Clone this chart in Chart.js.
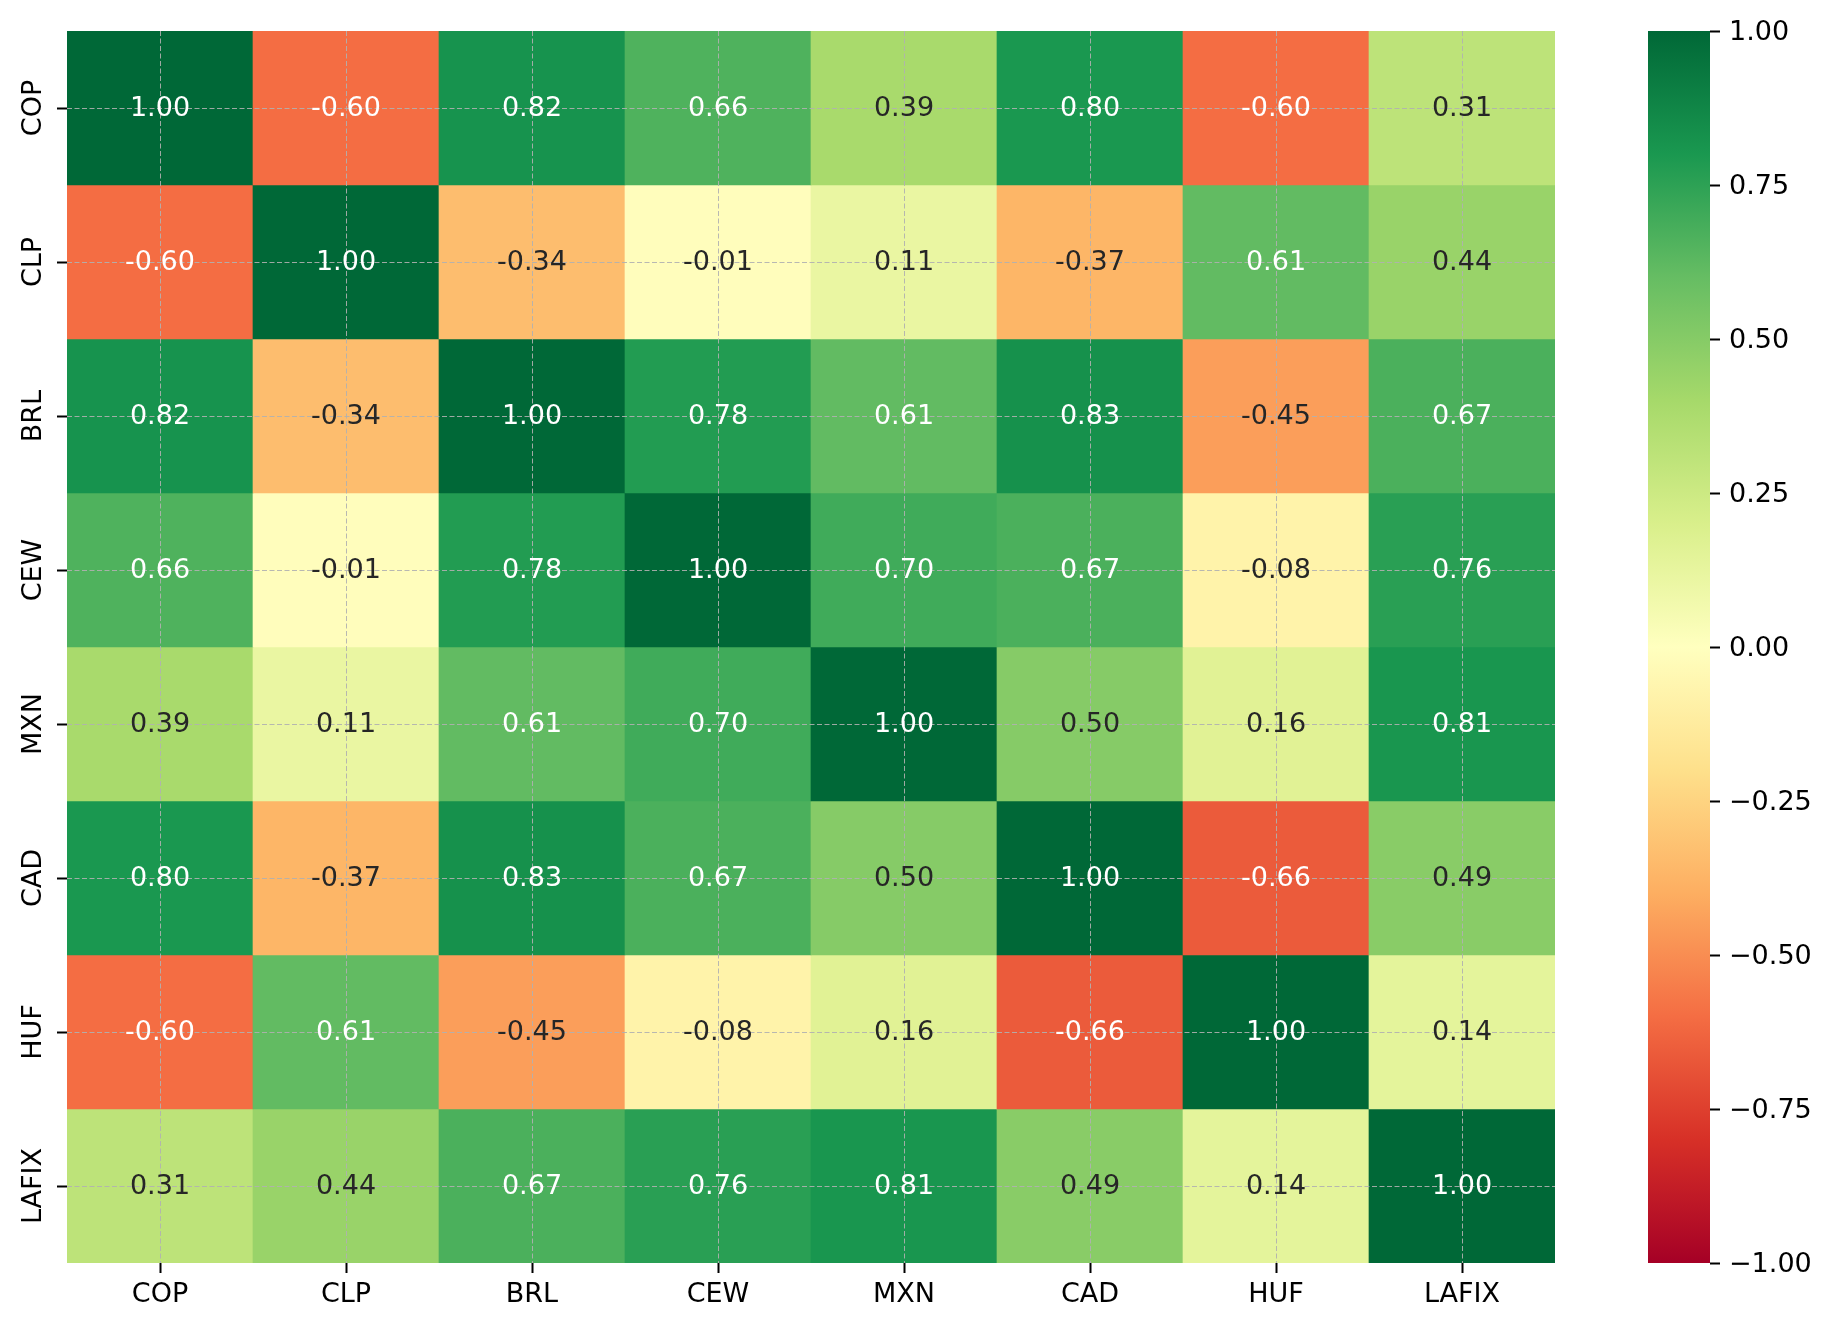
<!DOCTYPE html>
<html>
<head>
<meta charset="utf-8">
<script src="https://cdn.jsdelivr.net/npm/chart.js@4.4.1/dist/chart.umd.min.js"></script>
<style>
  html, body { margin: 0; padding: 0; background: #fff; overflow: hidden; }
  #wrap { position: relative; width: 1834px; height: 1330px; }
  #heat { position: absolute; left: 0; top: 0; }
  #cbar { position: absolute; left: 1600px; top: 0; }
</style>
</head>
<body>
<div id="wrap">
  <canvas id="heat" width="1600" height="1330"></canvas>
  <canvas id="cbar" width="234" height="1330"></canvas>
</div>
<script>
var labels = ['COP', 'CLP', 'BRL', 'CEW', 'MXN', 'CAD', 'HUF', 'LAFIX'];

// correlation rows, same order as labels
var copRow   = [1.00, -0.60, 0.82, 0.66, 0.39, 0.80, -0.60, 0.31];
var clpRow   = [-0.60, 1.00, -0.34, -0.01, 0.11, -0.37, 0.61, 0.44];
var brlRow   = [0.82, -0.34, 1.00, 0.78, 0.61, 0.83, -0.45, 0.67];
var cewRow   = [0.66, -0.01, 0.78, 1.00, 0.70, 0.67, -0.08, 0.76];
var mxnRow   = [0.39, 0.11, 0.61, 0.70, 1.00, 0.50, 0.16, 0.81];
var cadRow   = [0.80, -0.37, 0.83, 0.67, 0.50, 1.00, -0.66, 0.49];
var hufRow   = [-0.60, 0.61, -0.45, -0.08, 0.16, -0.66, 1.00, 0.14];
var lafixRow = [0.31, 0.44, 0.67, 0.76, 0.81, 0.49, 0.14, 1.00];
var corr = [copRow, clpRow, brlRow, cewRow, mxnRow, cadRow, hufRow, lafixRow];

var cbarTicks = [-1, -0.75, -0.5, -0.25, 0, 0.25, 0.5, 0.75, 1];

// RdYlGn stops (colorbrewer, 11 classes)
var rdylgn = [
  [165, 0, 38], [215, 48, 39], [244, 109, 67], [253, 174, 97], [254, 224, 139],
  [255, 255, 191], [217, 239, 139], [166, 217, 106], [102, 189, 99], [26, 152, 80], [0, 104, 55]
];

var FONT = 'DejaVu Sans';

function cmap(v) {
  var t = (v + 1) / 2;
  t = Math.max(0, Math.min(1, t));
  var pos = t * (rdylgn.length - 1);
  var i = Math.min(Math.floor(pos), rdylgn.length - 2);
  var f = pos - i;
  var a = rdylgn[i], b = rdylgn[i + 1];
  return [0, 1, 2].map(k => Math.round(a[k] + (b[k] - a[k]) * f));
}

function rgbStr(c) {
  return 'rgb(' + c[0] + ',' + c[1] + ',' + c[2] + ')';
}

function luminance(c) {
  var lin = c.map(function(x) {
    x = x / 255;
    return x <= 0.03928 ? x / 12.92 : Math.pow((x + 0.055) / 1.055, 2.4);
  });
  return 0.2126 * lin[0] + 0.7152 * lin[1] + 0.0722 * lin[2];
}

// one dataset per row, each bar spans [row, row+1] on the reversed y axis
var datasets = corr.map(function(row, i) {
  return {
    label: labels[i],
    data: row.map(() => [i, i + 1]),
    backgroundColor: row.map(v => rgbStr(cmap(v))),
    borderWidth: 0,
    barPercentage: 1,
    categoryPercentage: 1,
    grouped: false
  };
});

var annotatePlugin = {
  id: 'annotate',
  afterDraw: function(chart) {
    var ctx = chart.ctx;
    var xs = chart.scales.x, ys = chart.scales.y;
    ctx.save();
    ctx.font = '27px "' + FONT + '"';
    ctx.textAlign = 'center';
    ctx.textBaseline = 'middle';
    corr.forEach(function(row, i) {
      row.forEach(function(v, j) {
        var px = xs.getPixelForValue(j);
        var py = ys.getPixelForValue(i + 0.5);
        ctx.fillStyle = luminance(cmap(v)) > 0.408 ? '#262626' : '#ffffff';
        ctx.fillText(v.toFixed(2), px, py + 1);
      });
    });
    // rotated row labels
    ctx.fillStyle = '#000';
    labels.forEach(function(lab, i) {
      var py = ys.getPixelForValue(i + 0.5);
      ctx.save();
      ctx.translate(chart.chartArea.left - 34, py);
      ctx.rotate(-Math.PI / 2);
      ctx.fillText(lab, 0, 1);
      ctx.restore();
    });
    ctx.restore();
  }
};

// dashed grid drawn over the cells (grid.z > 0); v4 takes the dash from border.dash
var gridStyle = {
  display: true,
  z: 1,
  color: 'rgba(176,176,176,0.9)',
  lineWidth: 1,
  drawTicks: true,
  tickLength: 10,
  tickColor: '#000',
  tickWidth: 2,
  tickBorderDash: []
};
var borderStyle = { display: false, dash: [5, 2.5] };

new Chart(document.getElementById('heat'), {
  type: 'bar',
  data: { labels: labels, datasets: datasets },
  options: {
    responsive: false,
    devicePixelRatio: 1,
    animation: false,
    layout: { padding: { top: 31, right: 45, left: 0, bottom: 0 } },
    plugins: { legend: { display: false }, tooltip: { enabled: false } },
    scales: {
      x: {
        type: 'category',
        offset: true,
        grid: Object.assign({}, gridStyle, { offset: false }),
        border: borderStyle,
        ticks: { color: '#000', font: { family: FONT, size: 27 }, padding: 6, maxRotation: 0, minRotation: 0 },
        afterFit: function(scale) { scale.height = 67; }
      },
      y: {
        type: 'linear',
        min: 0,
        max: 8,
        reverse: true,
        grid: gridStyle,
        border: borderStyle,
        ticks: { display: false },
        afterBuildTicks: function(scale) {
          scale.ticks = labels.map((_, i) => ({ value: i + 0.5 }));
        },
        afterFit: function(scale) { scale.width = 67; }
      }
    }
  },
  plugins: [annotatePlugin]
});

// colorbar: a single floating bar filled with the colormap gradient
new Chart(document.getElementById('cbar'), {
  type: 'bar',
  data: {
    labels: [''],
    datasets: [{
      data: [[-1, 1]],
      borderWidth: 0,
      barPercentage: 1,
      categoryPercentage: 1,
      backgroundColor: function(context) {
        var area = context.chart.chartArea;
        if (!area) return null;
        var g = context.chart.ctx.createLinearGradient(0, area.bottom, 0, area.top);
        rdylgn.forEach(function(c, k) {
          g.addColorStop(k / (rdylgn.length - 1), rgbStr(c));
        });
        return g;
      }
    }]
  },
  options: {
    responsive: false,
    devicePixelRatio: 1,
    animation: false,
    layout: { padding: { top: 31, right: 0, left: 48, bottom: 67 } },
    plugins: { legend: { display: false }, tooltip: { enabled: false } },
    scales: {
      x: { display: false },
      y: {
        position: 'right',
        min: -1,
        max: 1,
        grid: { drawOnChartArea: false, drawTicks: true, tickLength: 10, tickColor: '#000', tickWidth: 2 },
        border: { display: false },
        afterBuildTicks: function(scale) {
          scale.ticks = cbarTicks.map(v => ({ value: v }));
        },
        ticks: {
          color: '#000',
          padding: 9,
          labelOffset: 2,
          font: { family: FONT, size: 27 },
          callback: function(v) { return v.toFixed(2).replace('-', '\u2212'); }
        },
        afterFit: function(scale) { scale.width = 124; }
      }
    }
  }
});
</script>
</body>
</html>
